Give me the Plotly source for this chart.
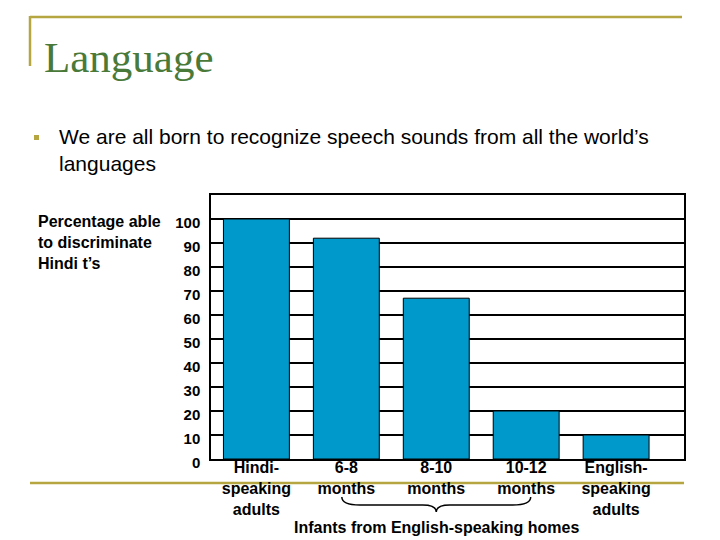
import plotly.graph_objects as go

categories = ["Hindi-<br>speaking<br>adults", "6-8<br>months", "8-10<br>months", "10-12<br>months", "English-<br>speaking<br>adults"]
values = [100, 92, 67, 20, 10]
y_ticks = [0, 10, 20, 30, 40, 50, 60, 70, 80, 90, 100]

OFF = 8  # page body margin
W, H = 720 - OFF, 540 - OFF
PLOT_L, PLOT_R, PLOT_T, PLOT_B = 211, 684, 195, 459  # target page pixels
L, T = PLOT_L - OFF, PLOT_T - OFF
R, B = W - (PLOT_R - OFF), H - (PLOT_B - OFF)
PW, PH = PLOT_R - PLOT_L, PLOT_B - PLOT_T

def px(x):
    return (x - PLOT_L) / PW

def py(y):
    return (PLOT_B - y) / PH

GOLD = "#B5A642"
FONT = "Liberation Sans, Arial, sans-serif"

fig = go.Figure(go.Bar(
    x=list(range(len(categories))), y=values,
    marker=dict(color="#0099CC", line=dict(color="black", width=1)),
    width=0.733,
))

fig.update_layout(
    width=W, height=H, margin=dict(l=L, r=R, t=T, b=B),
    paper_bgcolor="white", plot_bgcolor="white", showlegend=False,
    xaxis=dict(range=[-0.505, 4.755], tickvals=list(range(len(categories))), ticktext=categories,
               showgrid=False, zeroline=False, showline=True, linecolor="black", linewidth=1.5,
               mirror=True, ticks="", tickfont=dict(family=FONT, size=16, color="black", weight="bold"),
               ticklabelstandoff=-7),
    yaxis=dict(range=[0, 110], tickvals=y_ticks, showgrid=True, gridcolor="black", gridwidth=1.5,
               zeroline=False, showline=True, linecolor="black", linewidth=1.5, mirror=True,
               ticks="", tickfont=dict(family=FONT, size=15, color="black", weight="bold"),
               ticklabelstandoff=6, ticklabelshift=4),
)

shapes = [
    dict(type="line", xref="paper", yref="paper", x0=px(30), x1=px(682), y0=py(17), y1=py(17),
         line=dict(color=GOLD, width=2.5)),
    dict(type="line", xref="paper", yref="paper", x0=px(30), x1=px(30), y0=py(16), y1=py(66),
         line=dict(color=GOLD, width=2.5)),
    dict(type="line", xref="paper", yref="paper", x0=px(30), x1=px(684), y0=py(483), y1=py(483),
         line=dict(color=GOLD, width=2.5), layer="below"),
    dict(type="rect", xref="paper", yref="paper", x0=px(34), x1=px(39), y0=py(135), y1=py(140),
         fillcolor=GOLD, line=dict(width=0)),
    dict(type="path", xref="x", yref="paper",
         path=(f"M 0.95,{py(497)} Q 0.95,{py(505)} 1.15,{py(505)} L 1.85,{py(505)} "
               f"Q 2.0,{py(505)} 2.0,{py(512)} Q 2.0,{py(505)} 2.15,{py(505)} "
               f"L 2.85,{py(505)} Q 3.05,{py(505)} 3.05,{py(497)}"),
         line=dict(color="black", width=1.5)),
]
fig.update_layout(shapes=shapes)

annotations = [
    dict(text="Language", x=px(42), y=py(58), xref="paper", yref="paper", xanchor="left", yanchor="middle",
         showarrow=False, font=dict(family="Liberation Serif, Times New Roman, serif", size=43, color="#4A7A3A")),
    dict(text="We are all born to recognize speech sounds from all the world’s<br>languages",
         x=px(57), y=py(150), xref="paper", yref="paper", xanchor="left", yanchor="middle", align="left",
         showarrow=False, font=dict(family=FONT, size=21, color="black")),
    dict(text="Percentage able<br>to discriminate<br>Hindi t’s",
         x=px(36), y=py(242), xref="paper", yref="paper", xanchor="left", yanchor="middle", align="left",
         showarrow=False, font=dict(family=FONT, size=16, color="black", weight="bold")),
    dict(text="Infants from English-speaking homes", x=2.0, y=py(527), xref="x", yref="paper",
         xanchor="center", yanchor="middle", showarrow=False,
         font=dict(family=FONT, size=16, color="black", weight="bold")),
]
fig.update_layout(annotations=annotations)

fig.write_html("out.html")
